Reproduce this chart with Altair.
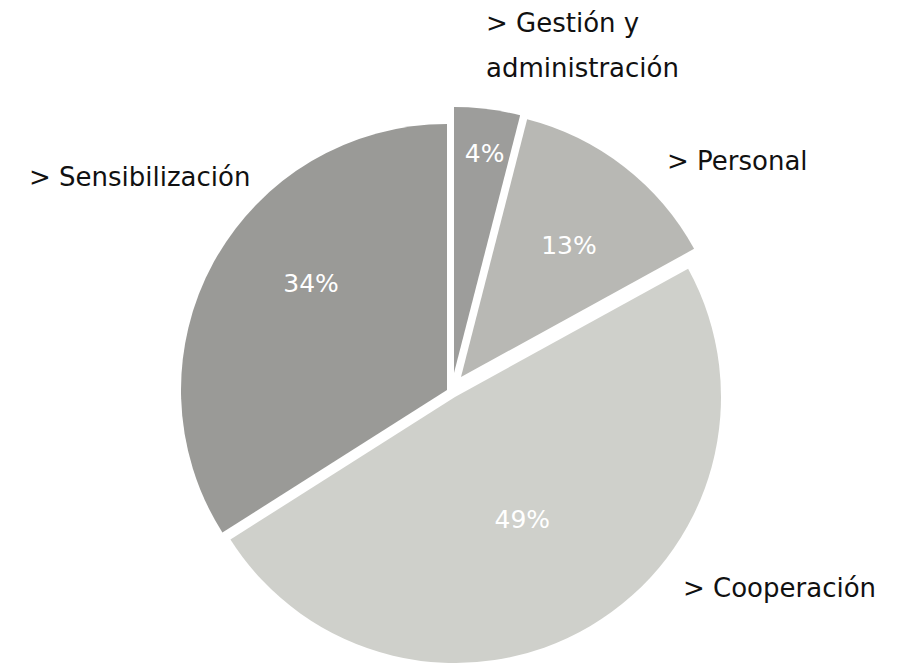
import altair as alt
import pandas as pd

# ---- data ----
categories = ["Gestión y administración", "Personal", "Cooperación", "Sensibilización"]
values = [4, 13, 49, 34]
category_labels = ["> Gestión y\nadministración", "> Personal", "> Cooperación", "> Sensibilización"]

df = pd.DataFrame({
    "categoria": categories,
    "valor": values,
    "etiqueta": category_labels,
    "orden": list(range(len(categories))),
})

# ---- style ----
FONT = "DejaVu Sans"
R = 266
FILLS = {
    "Gestión y administración": "#9d9d9b",
    "Personal": "#b8b8b4",
    "Cooperación": "#cfd0cb",
    "Sensibilización": "#9a9a97",
}
# origin of each (exploded) slice, in pixels
CENTER = {
    "Gestión y administración": (454, 373),
    "Personal": (461, 377),
    "Cooperación": (455, 397),
    "Sensibilización": (447, 390),
}
# percent label: radius, dx, dy
PCT_STYLE = {
    "Gestión y administración": (221, 3, 0),
    "Personal": (168, 5, 2),
    "Cooperación": (140, -4, 2),
    "Sensibilización": (170, 13, -24),
}
# category label: x, y (baseline), align
LABEL_STYLE = {
    "Gestión y administración": (486, 32, "left"),
    "Personal": (667, 170, "left"),
    "Cooperación": (683, 597, "left"),
    "Sensibilización": (29, 186, "left"),
}

theta_scale = alt.Scale(domain=[0, 100], range=[0, 6.283185307179586])

base = alt.Chart(df).transform_window(
    fin="sum(valor)", sort=[alt.SortField("orden")], frame=[None, 0]
).transform_calculate(
    ini="datum.fin - datum.valor",
    medio="datum.fin - datum.valor / 2",
    pct="format(datum.valor, 'd') + '%'",
)

layers = []
for cat in categories:
    cx, cy = CENTER[cat]
    sub = base.transform_filter(alt.datum.categoria == cat)
    arc = sub.mark_arc(color=FILLS[cat], radius=R).encode(
        theta=alt.Theta("ini:Q", stack=None, scale=theta_scale),
        theta2="fin:Q",
        x=alt.value(cx),
        y=alt.value(cy),
    )
    layers.append(arc)

for cat in categories:
    cx, cy = CENTER[cat]
    r, dx, dy = PCT_STYLE[cat]
    sub = base.transform_filter(alt.datum.categoria == cat)
    txt = sub.mark_text(
        radius=r, dx=dx, dy=dy, fontSize=25, font=FONT, color="white",
        align="center", baseline="middle",
    ).encode(
        theta=alt.Theta("medio:Q", stack=None, scale=theta_scale),
        text="pct:N",
        x=alt.value(cx),
        y=alt.value(cy),
    )
    layers.append(txt)

for cat in categories:
    lx, ly, al = LABEL_STYLE[cat]
    sub = base.transform_filter(alt.datum.categoria == cat)
    lab = sub.mark_text(
        align=al, baseline="alphabetic", fontSize=26, font=FONT,
        lineBreak="\n", lineHeight=45, color="#111111",
    ).encode(
        text="etiqueta:N",
        x=alt.value(lx),
        y=alt.value(ly),
    )
    layers.append(lab)

chart = alt.layer(*layers).properties(
    width=910, height=663, padding=0, autosize="none", background="white"
).configure_view(stroke=None)

chart.save("out.html", embed_options={"renderer": "svg", "actions": False})
